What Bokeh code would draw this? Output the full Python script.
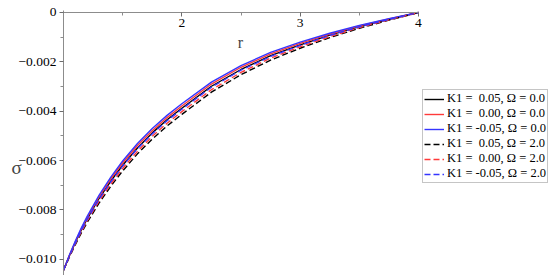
from bokeh.plotting import figure
from bokeh.models import Range1d, LinearAxis, FixedTicker, Legend, LegendItem, Label
from bokeh.embed import file_html
from bokeh.resources import INLINE

# radial coordinate
r = [1.0, 1.05, 1.1, 1.15, 1.2, 1.3, 1.4, 1.5, 1.625, 1.75, 1.875, 2.0,
     2.25, 2.5, 2.75, 3.0, 3.25, 3.5, 3.75, 4.0]

# sigma values
k_p05_o0 = [-0.01045, -0.00986, -0.00932, -0.00882, -0.00837, -0.00754, -0.00683, -0.00619,
            -0.00549, -0.00488, -0.00435, -0.00388, -0.00299, -0.00231, -0.00175, -0.00131,
            -0.00092, -0.00057, -0.00028, 0.0]
k_000_o0 = [-0.01045, -0.00985, -0.00929, -0.00878, -0.00831, -0.00747, -0.00674, -0.00610,
            -0.00539, -0.00479, -0.00426, -0.00379, -0.00290, -0.00222, -0.00168, -0.00125,
            -0.00088, -0.00054, -0.00026, 0.0]
k_m05_o0 = [-0.01045, -0.00983, -0.00926, -0.00874, -0.00826, -0.00741, -0.00667, -0.00602,
            -0.00531, -0.00470, -0.00417, -0.00370, -0.00282, -0.00215, -0.00162, -0.00120,
            -0.00084, -0.00052, -0.00025, 0.0]
k_p05_o2 = [-0.01045, -0.00991, -0.00941, -0.00894, -0.00851, -0.00773, -0.00704, -0.00642,
            -0.00573, -0.00513, -0.00460, -0.00413, -0.00323, -0.00252, -0.00193, -0.00145,
            -0.00102, -0.00064, -0.00031, 0.0]
k_000_o2 = [-0.01045, -0.00989, -0.00937, -0.00889, -0.00845, -0.00765, -0.00695, -0.00632,
            -0.00563, -0.00502, -0.00449, -0.00402, -0.00313, -0.00243, -0.00185, -0.00139,
            -0.00098, -0.00061, -0.00030, 0.0]
k_m05_o2 = [-0.01045, -0.00987, -0.00934, -0.00884, -0.00839, -0.00757, -0.00686, -0.00622,
            -0.00552, -0.00492, -0.00439, -0.00392, -0.00303, -0.00234, -0.00178, -0.00133,
            -0.00093, -0.00058, -0.00028, 0.0]

series = [
    ("K1 = \u00a00.05, \u03a9 = 0.0", k_p05_o0, "black", "solid"),
    ("K1 = \u00a00.00, \u03a9 = 0.0", k_000_o0, "#ff3a3a", "solid"),
    ("K1 = -0.05, \u03a9 = 0.0", k_m05_o0, "#3535ff", "solid"),
    ("K1 = \u00a00.05, \u03a9 = 2.0", k_p05_o2, "black", "6 3"),
    ("K1 = \u00a00.00, \u03a9 = 2.0", k_000_o2, "#ff3a3a", "6 3"),
    ("K1 = -0.05, \u03a9 = 2.0", k_m05_o2, "#3535ff", "6 3"),
]

x_ticks = [2, 3, 4]
x_minor = [1.5, 2.5, 3.5]
y_ticks = [0.0, -0.002, -0.004, -0.006, -0.008, -0.010]
y_tick_labels = ["0", "\u22120.002", "\u22120.004", "\u22120.006", "\u22120.008", "\u22120.010"]
y_minor = [-0.001, -0.003, -0.005, -0.007, -0.009]

SERIF = "Liberation Serif"
AXIS_FONT = "'Liberation Serif', serif"

p = figure(width=550, height=275, output_backend="svg", toolbar_location=None,
           x_range=Range1d(0.4676, 5.1155), y_range=Range1d(-0.01066, 0.000486),
           x_axis_location=None, y_axis_location=None,
           min_border_left=0, min_border_right=0, min_border_top=0, min_border_bottom=0)
p.outline_line_color = None
p.grid.visible = False
p.background_fill_color = "white"
p.border_fill_color = "white"

yaxis = LinearAxis(ticker=FixedTicker(ticks=y_ticks, minor_ticks=y_minor),
                   major_label_overrides={v: t for v, t in zip(y_ticks, y_tick_labels)},
                   fixed_location=1, bounds=(-0.0108, 0.00008))
yaxis.axis_line_color = "#8c8c8c"
yaxis.major_tick_line_color = "#6c6c6c"
yaxis.minor_tick_line_color = "#8c8c8c"
yaxis.major_tick_out = 4
yaxis.major_tick_in = 0
yaxis.minor_tick_out = 3
yaxis.minor_tick_in = 0
yaxis.major_label_text_font = AXIS_FONT
yaxis.major_label_text_font_size = "13.5px"
yaxis.major_label_text_color = "black"
yaxis.major_label_standoff = 3
p.add_layout(yaxis, "left")

xaxis = LinearAxis(ticker=FixedTicker(ticks=x_ticks, minor_ticks=x_minor),
                   fixed_location=0, bounds=(1, 4))
xaxis.axis_line_color = "#8c8c8c"
xaxis.major_tick_line_color = "#6c6c6c"
xaxis.minor_tick_line_color = "#8c8c8c"
xaxis.major_tick_out = 4
xaxis.major_tick_in = 0
xaxis.minor_tick_out = 3
xaxis.minor_tick_in = 0
xaxis.major_label_text_font = AXIS_FONT
xaxis.major_label_text_font_size = "13.5px"
xaxis.major_label_text_color = "black"
xaxis.major_label_standoff = 3
p.add_layout(xaxis, "below")

items = []
for label, vals, color, dash in series:
    rr = p.line(r, vals, line_color=color, line_width=1.4, line_dash=dash)
    items.append(LegendItem(label=label, renderers=[rr]))

legend = Legend(items=items, location=(422, 92))
legend.border_line_color = "#8c8c8c"
legend.border_line_width = 1
legend.background_fill_color = "white"
legend.background_fill_alpha = 1
legend.padding = 1
legend.spacing = 0
legend.margin = 0
legend.glyph_width = 20
legend.glyph_height = 14
legend.label_height = 14
legend.label_standoff = 3
legend.label_text_font = SERIF
legend.label_text_font_size = "12.5px"
legend.label_text_color = "black"
p.add_layout(legend)

p.add_layout(Label(x=0.603, y=-0.00628, text="\u03c3", text_font=SERIF,
                   text_font_size="19px", text_baseline="middle", text_align="center"))
p.add_layout(Label(x=2.496, y=-0.00122, text="r", text_font=SERIF,
                   text_font_size="16px", text_baseline="middle", text_align="center"))

open("out.html", "w").write(file_html(p, INLINE))
